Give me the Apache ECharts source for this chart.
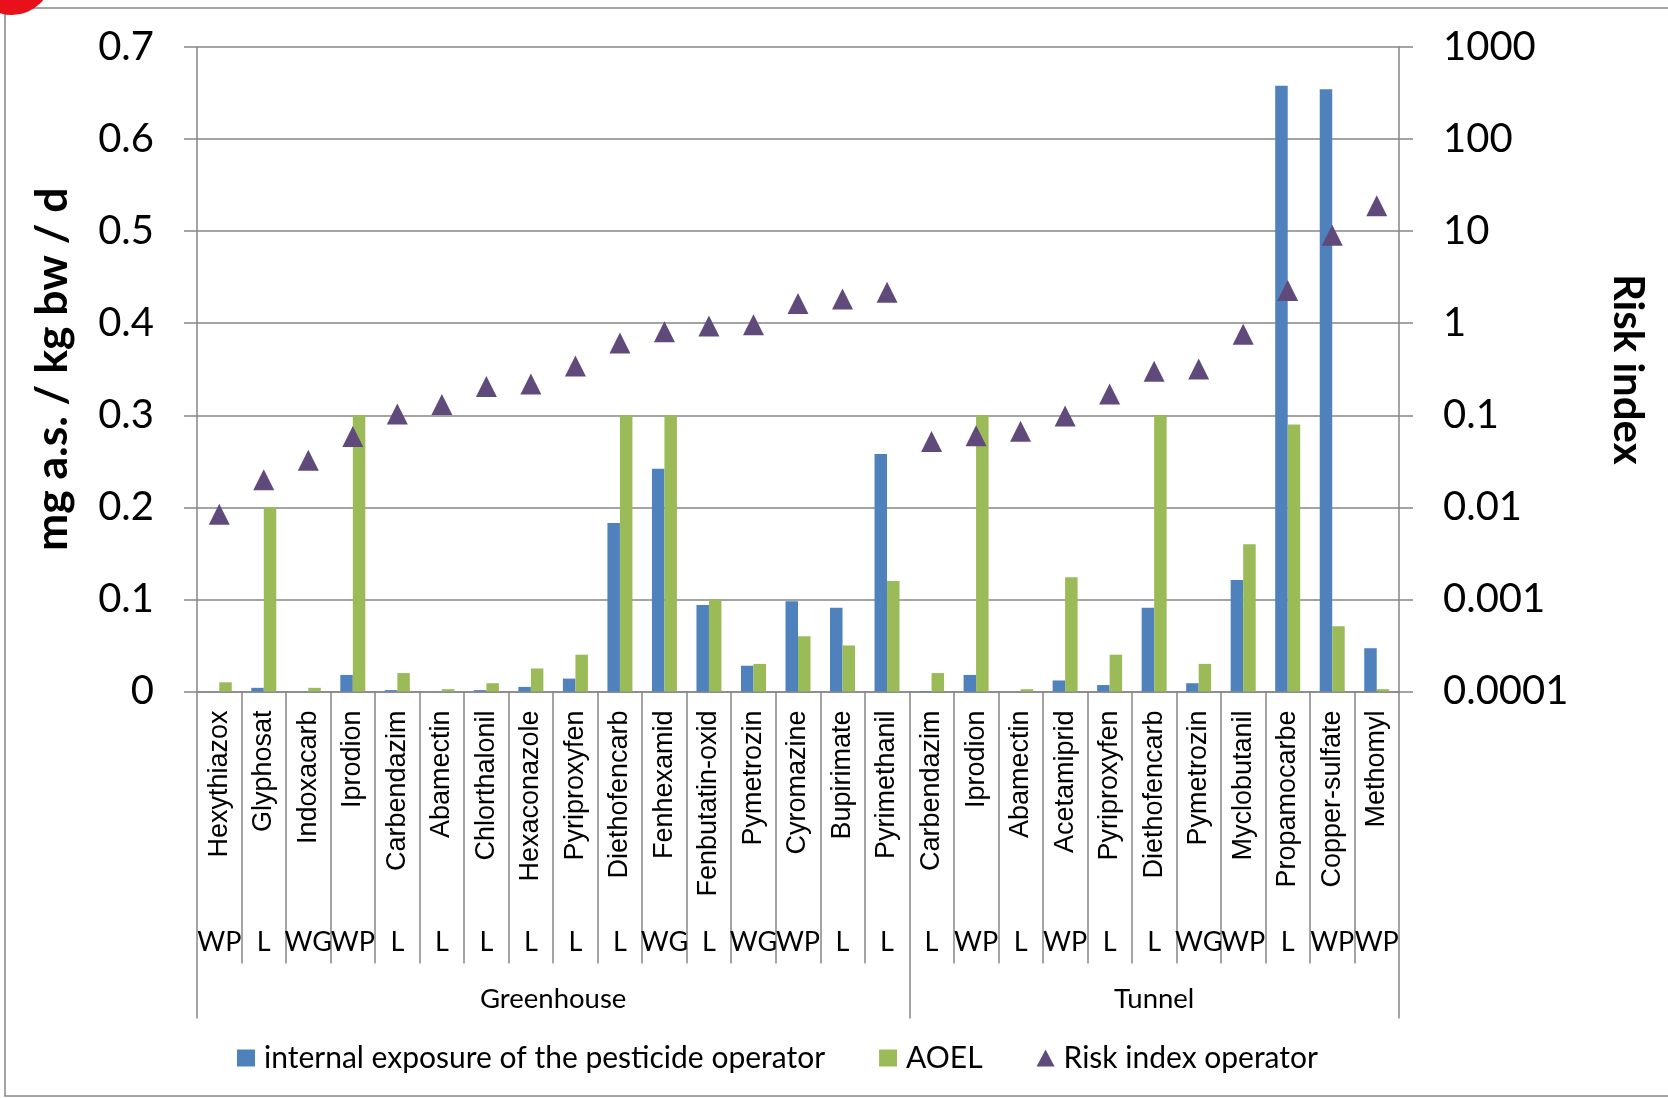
<!DOCTYPE html>
<html>
<head>
<meta charset="utf-8">
<script src="https://cdn.jsdelivr.net/npm/echarts@6/dist/echarts.min.js"></script>
<style>
  html, body { margin: 0; padding: 0; background: #fff; }
  #chart { width: 1668px; height: 1098px; }
</style>
</head>
<body>
<div id="chart"></div>
<script>
// active substances, greenhouse first then tunnel
const names = [
  'Hexythiazox', 'Glyphosat', 'Indoxacarb', 'Iprodion', 'Carbendazim', 'Abamectin',
  'Chlorthalonil', 'Hexaconazole', 'Pyriproxyfen', 'Diethofencarb', 'Fenhexamid',
  'Fenbutatin-oxid', 'Pymetrozin', 'Cyromazine', 'Bupirimate', 'Pyrimethanil',
  'Carbendazim', 'Iprodion', 'Abamectin', 'Acetamiprid', 'Pyriproxyfen', 'Diethofencarb',
  'Pymetrozin', 'Myclobutanil', 'Propamocarbe', 'Copper-sulfate', 'Methomyl'
];
const formulations = [
  'WP', 'L', 'WG', 'WP', 'L', 'L', 'L', 'L', 'L', 'L', 'WG', 'L', 'WG', 'WP', 'L', 'L',
  'L', 'WP', 'L', 'WP', 'L', 'L', 'WG', 'WP', 'L', 'WP', 'WP'
];
const groups = ['Greenhouse', 'Tunnel'];
const groupSizes = [16, 11];

// mg a.s. / kg bw / d
const exposure = [
  0, 0.004, 0, 0.018, 0.0015, 0, 0.0015, 0.005, 0.014, 0.183, 0.242, 0.094, 0.028, 0.098, 0.091, 0.258,
  0.0005, 0.018, 0, 0.012, 0.007, 0.091, 0.009, 0.121, 0.658, 0.654, 0.047
];
const aoel = [
  0.01, 0.2, 0.004, 0.3, 0.02, 0.0025, 0.009, 0.025, 0.04, 0.3, 0.3, 0.1, 0.03, 0.06, 0.05, 0.12,
  0.02, 0.3, 0.0025, 0.124, 0.04, 0.3, 0.03, 0.16, 0.29, 0.071, 0.0025
];
// risk index (log axis)
const risk = [
  0.0084, 0.02, 0.0325, 0.059, 0.103, 0.131, 0.205, 0.218, 0.344, 0.61, 0.81, 0.93, 0.96, 1.64, 1.83, 2.17,
  0.052, 0.06, 0.067, 0.098, 0.17, 0.30, 0.318, 0.76, 2.27, 9.0, 18.9
];

// group boundaries and centres on a 0..n scale
const groupEdges = [0];
const groupCenters = [];
groupSizes.forEach((s, i) => {
  groupCenters.push(groupEdges[i] + s / 2);
  groupEdges.push(groupEdges[i] + s);
});
const total = groupEdges[groupEdges.length - 1];

const gray = '#868686';
const calibri = 'Lato, "Open Sans", sans-serif';
const arial = '"Liberation Sans", Arial, sans-serif';

const chart = echarts.init(document.getElementById('chart'));
chart.setOption({
  animation: false,
  textStyle: { fontFamily: calibri, color: '#000' },
  graphic: [
    { type: 'circle', shape: { cx: 12, cy: -25, r: 40 }, style: { fill: '#e8101a' }, z: 100 },
    { type: 'rect', shape: { x: 5, y: 8, width: 1720, height: 1088 }, style: { fill: 'none', stroke: gray, lineWidth: 1.5 }, z: -1 }
  ],
  grid: { left: 197, right: 269, top: 47, bottom: 406.5 },
  legend: {
    left: 232, top: 1038,
    itemWidth: 18, itemHeight: 17, itemGap: 54,
    textStyle: { fontSize: 30, fontFamily: calibri, color: '#000', padding: [0, 0, 0, 4] },
    data: [
      { name: 'internal exposure of the pesticide operator', icon: 'rect' },
      { name: 'AOEL', icon: 'rect' },
      { name: 'Risk index operator', icon: 'triangle' }
    ]
  },
  xAxis: [
    {
      type: 'category',
      data: names.map((n, i) => i),
      axisLine: { lineStyle: { color: gray, width: 1.5 } },
      axisTick: { show: true, interval: 0, length: 272, lineStyle: { color: gray, width: 1.5 } },
      axisLabel: {
        interval: 0, rotate: 90, margin: 19, fontSize: 27, fontFamily: arial, color: '#000',
        formatter: (v, i) => names[i]
      }
    },
    {
      type: 'category',
      position: 'bottom',
      data: names.map((n, i) => i),
      axisLine: { show: false },
      axisTick: { show: false },
      axisLabel: {
        interval: 0, margin: 237, fontSize: 27, color: '#000',
        formatter: (v, i) => formulations[i]
      }
    },
    {
      type: 'value',
      position: 'bottom',
      min: 0, max: total,
      axisLine: { show: false },
      splitLine: { show: false },
      axisTick: { show: true, customValues: groupEdges, length: 327, lineStyle: { color: gray, width: 1.5 } },
      axisLabel: {
        customValues: groupCenters, margin: 294, fontSize: 27.5, color: '#000',
        formatter: v => groups[groupCenters.indexOf(v)]
      }
    }
  ],
  yAxis: [
    {
      type: 'value',
      min: 0, max: 0.7, interval: 0.1,
      name: 'mg a.s. / kg bw / d',
      nameLocation: 'middle', nameGap: 122,
      nameTextStyle: { fontSize: 44.5, fontWeight: 'bold', fontFamily: calibri, color: '#000' },
      axisLine: { show: true, lineStyle: { color: gray, width: 1.5 } },
      axisTick: { show: true, length: 13, lineStyle: { color: gray, width: 1.5 } },
      axisLabel: { margin: 43, fontSize: 40, fontFamily: calibri, color: '#000' },
      splitLine: { lineStyle: { color: gray, width: 1.5 } }
    },
    {
      type: 'log',
      logBase: 10,
      min: 0.0001, max: 1000,
      name: 'Risk index',
      nameLocation: 'middle', nameGap: 208, nameRotate: -90,
      nameTextStyle: { fontSize: 42, fontWeight: 'bold', fontFamily: calibri, color: '#000' },
      axisLine: { show: true, lineStyle: { color: gray, width: 1.5 } },
      axisTick: { show: true, length: 14, lineStyle: { color: gray, width: 1.5 } },
      axisLabel: {
        margin: 44, fontSize: 40, fontFamily: calibri, color: '#000',
        formatter: v => String(Number(Number(v).toPrecision(6)))
      },
      splitLine: { show: false }
    }
  ],
  series: [
    {
      name: 'internal exposure of the pesticide operator',
      type: 'bar',
      barWidth: 12.5, barGap: '0%',
      itemStyle: { color: '#4F81BD' },
      data: exposure
    },
    {
      name: 'AOEL',
      type: 'bar',
      barWidth: 12.5, barGap: '0%',
      itemStyle: { color: '#9BBB59' },
      data: aoel
    },
    {
      name: 'Risk index operator',
      type: 'scatter',
      yAxisIndex: 1,
      symbol: 'triangle', symbolSize: 21,
      itemStyle: { color: '#604A7B', opacity: 1 },
      data: risk
    }
  ]
});
</script>
</body>
</html>
